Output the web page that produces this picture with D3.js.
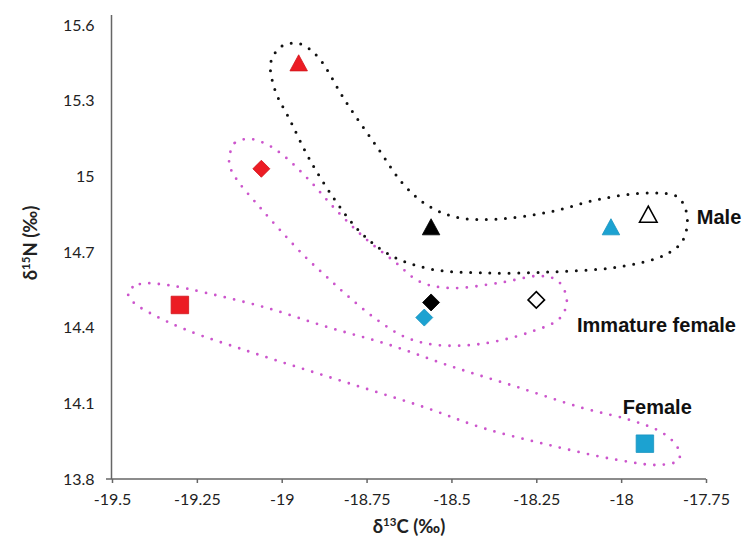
<!DOCTYPE html>
<html>
<head>
<meta charset="utf-8">
<script src="https://cdn.jsdelivr.net/npm/d3@7/dist/d3.min.js"></script>
<style>
  html, body { margin: 0; padding: 0; background: #fff; }
  svg { display: block; }
</style>
</head>
<body>
<svg id="chart" width="744" height="537"></svg>
<script>
// ---------- data ----------
const xTicks = [-19.5, -19.25, -19, -18.75, -18.5, -18.25, -18, -17.75];
const yTicks = [13.8, 14.1, 14.4, 14.7, 15, 15.3, 15.6];

// Male (triangles)
const maleC13 = [-18.95, -18.56, -18.03, -17.92];
const maleN15 = [15.45, 14.80, 14.80, 14.85];
const maleFill = ["red", "black", "cyan", "open"];

// Immature female (diamonds)
const immC13 = [-19.06, -18.56, -18.58, -18.25];
const immN15 = [15.03, 14.50, 14.44, 14.51];
const immFill = ["red", "black", "cyan", "open"];

// Female (squares)
const femC13 = [-19.30, -17.93];
const femN15 = [14.49, 13.94];
const femFill = ["red", "cyan"];

// group outlines (δ13C, δ15N)
const maleOutline = [
  [-19.032, 15.453], [-18.999, 15.517], [-18.946, 15.525], [-18.893, 15.473],
  [-18.814, 15.302], [-18.719, 15.116], [-18.637, 14.962], [-18.563, 14.879],
  [-18.475, 14.835], [-18.357, 14.831], [-18.210, 14.859], [-18.062, 14.910],
  [-17.915, 14.934], [-17.833, 14.918], [-17.806, 14.846], [-17.818, 14.747],
  [-17.871, 14.688], [-18.012, 14.640], [-18.210, 14.621], [-18.407, 14.617],
  [-18.563, 14.633], [-18.681, 14.688], [-18.769, 14.780], [-18.843, 14.906],
  [-18.917, 15.065], [-18.976, 15.224], [-19.020, 15.343]
];
const immOutline = [
  [-19.155, 15.065], [-19.138, 15.133], [-19.093, 15.148], [-19.040, 15.124],
  [-18.990, 15.077], [-18.917, 14.982], [-18.843, 14.871], [-18.755, 14.755],
  [-18.666, 14.660], [-18.593, 14.582], [-18.504, 14.557], [-18.357, 14.578],
  [-18.239, 14.605], [-18.186, 14.585], [-18.160, 14.510], [-18.180, 14.438],
  [-18.269, 14.382], [-18.416, 14.335], [-18.548, 14.332], [-18.637, 14.363],
  [-18.719, 14.431], [-18.799, 14.518], [-18.864, 14.597], [-18.931, 14.681],
  [-19.005, 14.787], [-19.070, 14.886], [-19.123, 14.970], [-19.149, 15.025]
];
const femOutline = [
  [-19.453, 14.541], [-19.418, 14.573], [-19.338, 14.569], [-19.220, 14.537],
  [-19.043, 14.478], [-18.867, 14.403], [-18.690, 14.335], [-18.504, 14.248],
  [-18.307, 14.165], [-18.112, 14.081], [-17.974, 14.034], [-17.877, 13.982],
  [-17.833, 13.923], [-17.830, 13.876], [-17.886, 13.856], [-18.012, 13.876],
  [-18.210, 13.934], [-18.407, 14.002], [-18.572, 14.081], [-18.749, 14.157],
  [-18.926, 14.232], [-19.102, 14.308], [-19.279, 14.390], [-19.388, 14.458],
  [-19.438, 14.502]
];

const groupLabels = ["Male", "Immature female", "Female"];
const groupLabelPos = [[-17.777, 14.811], [-18.13, 14.383], [-17.995, 14.058]];

// ---------- styles ----------
const colors = { red: "#ec1c24", black: "#000000", cyan: "#1ca2d1", open: "#ffffff" };
const strokes = { red: "#d0141b", black: "#000000", cyan: "#1893bf", open: "#000000" };

const svg = d3.select("#chart");
svg.append("rect").attr("width", 744).attr("height", 537).attr("fill", "#fff");

const x = d3.scaleLinear().domain([-19.5, -17.75]).range([112, 706]);
const y = d3.scaleLinear().domain([13.8, 15.6]).range([479, 25]);

// axes
const xAxis = d3.axisBottom(x).tickValues(xTicks).tickSize(4).tickPadding(11)
  .tickFormat(d => String(d));
const gx = svg.append("g").attr("transform", "translate(0,479)").call(xAxis);
gx.select(".domain").attr("stroke", "#666").attr("stroke-width", 1.5)
  .attr("d", "M106,0H706");
gx.selectAll(".tick line").attr("stroke", "#666").attr("stroke-width", 1.5);
gx.selectAll(".tick text").attr("fill", "#222")
  .style("font-family", "Lato, 'Open Sans', sans-serif").style("font-size", "16px");

const yAxis = d3.axisLeft(y).tickValues(yTicks).tickSize(0).tickPadding(17)
  .tickFormat(d => String(d));
const gy = svg.append("g").attr("transform", "translate(111.5,0)").call(yAxis);
gy.select(".domain").attr("stroke", "#666").attr("stroke-width", 1.5)
  .attr("d", "M0,15V479");
gy.selectAll(".tick text").attr("fill", "#222")
  .style("font-family", "Lato, 'Open Sans', sans-serif").style("font-size", "16px");

// axis titles
const xt = svg.append("text").attr("x", 409).attr("y", 533).attr("text-anchor", "middle")
  .style("font-family", "Lato, sans-serif").style("font-size", "18.5px").style("font-weight", "bold")
  .attr("fill", "#222");
xt.append("tspan").text("δ");
xt.append("tspan").attr("dy", -7).style("font-size", "11.5px").text("13");
xt.append("tspan").attr("dy", 7).text("C (‰)");

const yt = svg.append("text").attr("transform", "translate(37,243) rotate(-90)")
  .attr("text-anchor", "middle")
  .style("font-family", "Lato, sans-serif").style("font-size", "18.5px").style("font-weight", "bold")
  .attr("fill", "#222");
yt.append("tspan").text("δ");
yt.append("tspan").attr("dy", -7).style("font-size", "11.5px").text("15");
yt.append("tspan").attr("dy", 7).text("N (‰)");

// outlines
const line = d3.line().x(d => x(d[0])).y(d => y(d[1])).curve(d3.curveCatmullRomClosed.alpha(0.5));
const outlineStyle = [
  { data: maleOutline, color: "#111", w: 3 },
  { data: immOutline, color: "#cc55cc", w: 2.8 },
  { data: femOutline, color: "#cc55cc", w: 2.8 }
];
outlineStyle.forEach(o => {
  svg.append("path").attr("d", line(o.data)).attr("fill", "none")
    .attr("stroke", o.color).attr("stroke-width", o.w)
    .attr("stroke-linecap", "round").attr("stroke-dasharray", "0 9.6");
});

// marker symbol types (bounding-box centred)
const triType = { draw(ctx, s) { const w = s / 2, h = s * 0.46; ctx.moveTo(0, -h); ctx.lineTo(w, h); ctx.lineTo(-w, h); ctx.closePath(); } };
const diaType = { draw(ctx, s) { const r = s / 2; ctx.moveTo(0, -r); ctx.lineTo(r, 0); ctx.lineTo(0, r); ctx.lineTo(-r, 0); ctx.closePath(); } };
const sqType = { draw(ctx, s) { const r = s / 2; ctx.rect(-r, -r, s, s); } };

function drawSeries(cx, cy, fills, type, size, openSize) {
  const rows = cx.map((v, i) => ({ c: v, n: cy[i], f: fills[i] }));
  svg.append("g").selectAll("path").data(rows).join("path")
    .attr("transform", d => `translate(${x(d.c)},${y(d.n)})`)
    .attr("d", d => d3.symbol(type, d.f === "open" ? openSize : size)())
    .attr("fill", d => colors[d.f])
    .attr("stroke", d => strokes[d.f])
    .attr("stroke-width", d => d.f === "open" ? 1.6 : 0.8)
    .attr("stroke-linejoin", "miter");
}
drawSeries(maleC13, maleN15, maleFill, triType, 17.5, 17.5);
drawSeries(immC13, immN15, immFill, diaType, 17, 16.5);
drawSeries(femC13, femN15, femFill, sqType, 17.5, 17.5);

// group labels
svg.append("g").selectAll("text").data(groupLabels).join("text")
  .attr("x", (d, i) => x(groupLabelPos[i][0]))
  .attr("y", (d, i) => y(groupLabelPos[i][1]))
  .style("font-family", "'Liberation Sans', Arial, sans-serif")
  .style("font-size", "20px").style("font-weight", "bold")
  .attr("fill", "#111")
  .text(d => d);
</script>
</body>
</html>
